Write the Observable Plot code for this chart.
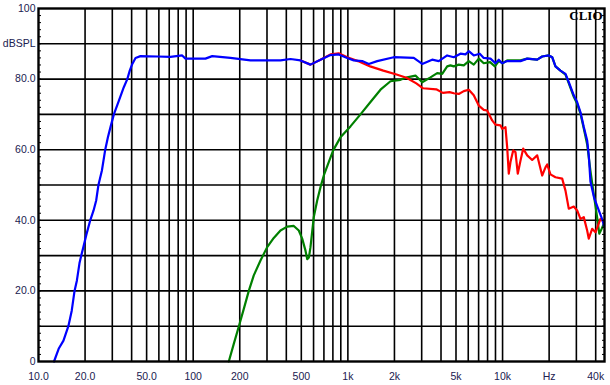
<!DOCTYPE html>
<html><head><meta charset="utf-8">
<script src="https://cdn.jsdelivr.net/npm/d3@7"></script>
<script src="https://cdn.jsdelivr.net/npm/@observablehq/plot@0.6"></script>
<style>body{margin:0;background:#fff;}</style>
</head><body><div id="chart"></div>
<script>
const blueFreq = [12.6,13.5,14.5,15.6,16.4,17.1,17.7,18.4,18.9,19.5,20.5,21.6,22.7,23.6,24.4,25.7,27.0,28.1,29.2,30.7,33.1,35.6,37.5,38.9,40.4,42.4,45.6,58.5,71.3,84.9,89.2,120,132.7,174,234.6,366.7,425.6,494,573,665,772,873,990,1092,1237,1365,1547,1980,2667,3023,3506,3868,4384,4837,5343,5757,6047,6513,7122,7557,8353,8996,9450,9941,10710,13060,14430,16740,18030,19900,20930,21980,23670,25510,26810,28860,30340,31900,33500,35240,36070,36990,39000,41130,44340,45100];
const blueDb = [0,3.6,5.9,10.0,14.4,20.0,22.9,27.8,30.0,32.4,36.3,40.0,42.8,45.6,50.0,54.1,60.0,63.5,66.4,70.0,73.9,77.7,80.0,82.4,84.3,86.0,86.5,86.4,86.3,86.7,85.8,85.8,86.5,86.0,85.3,85.3,85.7,85.3,84.1,85.5,86.8,87.0,86.0,85.3,85.1,84.3,85.1,86.2,86.0,84.3,85.5,85.1,86.7,86.2,87.2,87.0,87.9,86.7,87.2,86.0,85.8,84.5,85.5,84.5,85.1,85.1,85.8,85.5,86.4,86.7,86.2,83.6,82.4,81.5,79.1,75.4,73.5,70.6,66.4,62.6,58.5,51.0,46.5,43.7,40.0,38.5];

const redFreq = [494,573,665,772,873,990,1161,1394,1695,2064,2391,2770,3062,3727,4112,4543,4837,5211,5615,6047,6513,7018,7557,7951,8565,8996,9692,9941,10440,10710,10970,11250,11710,12120,12540,13060,13590,14430,15540,16740,18030,18940,19430,20400,21980,24290,25510,26790,28860,30350,31890,33490,35230,36070,37950,39860,42950,45100];
const redDb = [85.3,84.1,85.5,87.0,87.3,86.2,85.1,83.6,82.4,81.3,80.4,78.8,77.4,77.1,76.1,76.3,76.0,75.8,76.6,77.0,75.4,72.5,71.3,71.1,68.3,67.1,66.9,65.9,66.4,60.7,53.2,56.5,59.8,59.3,53.2,56.9,60.3,58.4,57.1,58.4,52.7,55.0,55.8,53.0,52.2,51.8,48.4,43.3,43.9,42.8,40.4,40.9,37.1,34.8,37.6,36.6,40.4,39.5];

const greenFreq = [169.9,183,197.2,212.4,228.8,246.4,272.3,300.8,331.9,366.7,405.2,447.2,481.6,506.6,532.1,545.8,560,573.1,602,633.3,665.4,698.9,752.4,803.5,895.5,1039,1206,1400,1625,1886,2188,2417,2735,3023,3420,3779,4071,4385,4605,4837,5211,5615,6047,6513,7018,7557,8300,8920,9450,10000,10710,13060,14430,16740,18030,19900,20930,21980,23670,25510,26810,28860,30340,31900,33500,35240,36990,38680,41130,42180,43640,45100];
const greenDb = [0,5.0,9.9,14.9,20.0,24.4,28.6,32.4,35.0,37.1,38.2,38.4,37.1,34.8,31.4,29.0,29.5,32.4,40.9,45.6,49.4,52.7,56.5,59.8,63.5,66.6,70.0,73.5,77.0,79.4,79.8,80.5,81.0,79.1,80.5,81.7,81.5,83.6,83.9,83.6,84.1,83.9,85.1,84.1,85.8,84.5,84.8,83.6,85.1,84.5,85.3,85.3,85.8,85.5,86.4,86.7,86.2,83.6,82.4,81.3,78.8,75.0,73.0,70.2,66.0,61.5,54.0,48.0,40.0,36.2,37.5,39.0];

const xGrid = [20,30,40,50,60,70,80,90,100,200,300,400,500,600,700,800,900,1000,2000,3000,4000,5000,6000,7000,8000,9000,10000,20000,30000,40000];
const xTicks = [10,20,50,100,200,500,1000,2000,5000,10000,20000,40000];
const xTickLabels = ["10.0","20.0","50.0","100","200","500","1k","2k","5k","10k","Hz","40k"];
const yGrid = [10,20,30,40,50,60,70,80,90];
const yTicks = [0,20,40,60,80,90,100];
const yTickLabels = ["0","20.0","40.0","60.0","80.0","dBSPL","100"];
const yMinor = d3.range(0, 101, 2);

const toRows = (f, d) => f.map((x, i) => ({f: x, db: d[i]}));
const blue = toRows(blueFreq, blueDb);
const red = toRows(redFreq, redDb);
const green = toRows(greenFreq, greenDb);
const xLabelRows = xTicks.map((t, i) => ({f: t, label: xTickLabels[i]}));
const yLbl = new Map(yTicks.map((t, i) => [t, yTickLabels[i]]));

const chart = Plot.plot({
  width: 610, height: 385,
  marginLeft: 38, marginRight: 6, marginTop: 8, marginBottom: 24,
  style: {fontFamily: "'Liberation Sans', Arial, sans-serif", fontSize: "10.5px", color: "#202050", background: "#fff", overflow: "visible"},
  x: {type: "log", domain: [10, 45600], label: null, axis: null},
  y: {domain: [0, 100], label: null},
  marks: [
    Plot.ruleX(xGrid, {stroke: "#000", strokeWidth: 1.6}),
    Plot.ruleY(yGrid, {stroke: "#000", strokeWidth: 1.6}),
    Plot.line(green, {x: "f", y: "db", stroke: "#008000", strokeWidth: 2.2}),
    Plot.line(red, {x: "f", y: "db", stroke: "#ff0000", strokeWidth: 2.2}),
    Plot.line(blue, {x: "f", y: "db", stroke: "#0000ff", strokeWidth: 2.2}),
    Plot.axisY(yMinor, {anchor: "left", label: null, tickSize: -3, tickFormat: () => "", stroke: "#000"}),
    Plot.axisY(yMinor, {anchor: "right", label: null, tickSize: -3, tickFormat: () => "", stroke: "#000"}),
    Plot.axisY(yTicks, {anchor: "left", label: null, tickSize: 0, tickPadding: 3, tickFormat: d => yLbl.get(d)}),
    Plot.text(xLabelRows, {x: "f", text: "label", frameAnchor: "bottom", lineAnchor: "top", dy: 11, fill: "#202050", fontSize: 10.5}),
    Plot.frame({stroke: "#000", strokeWidth: 2.4}),
    Plot.text(["CLIO"], {frameAnchor: "top-right", textAnchor: "end", lineAnchor: "middle", dx: -2, dy: 7, fontFamily: "'Liberation Serif', 'DejaVu Serif', serif", fontWeight: "bold", fontSize: 13, fill: "#000"})
  ]
});
document.getElementById("chart").appendChild(chart);
</script>
</body></html>
